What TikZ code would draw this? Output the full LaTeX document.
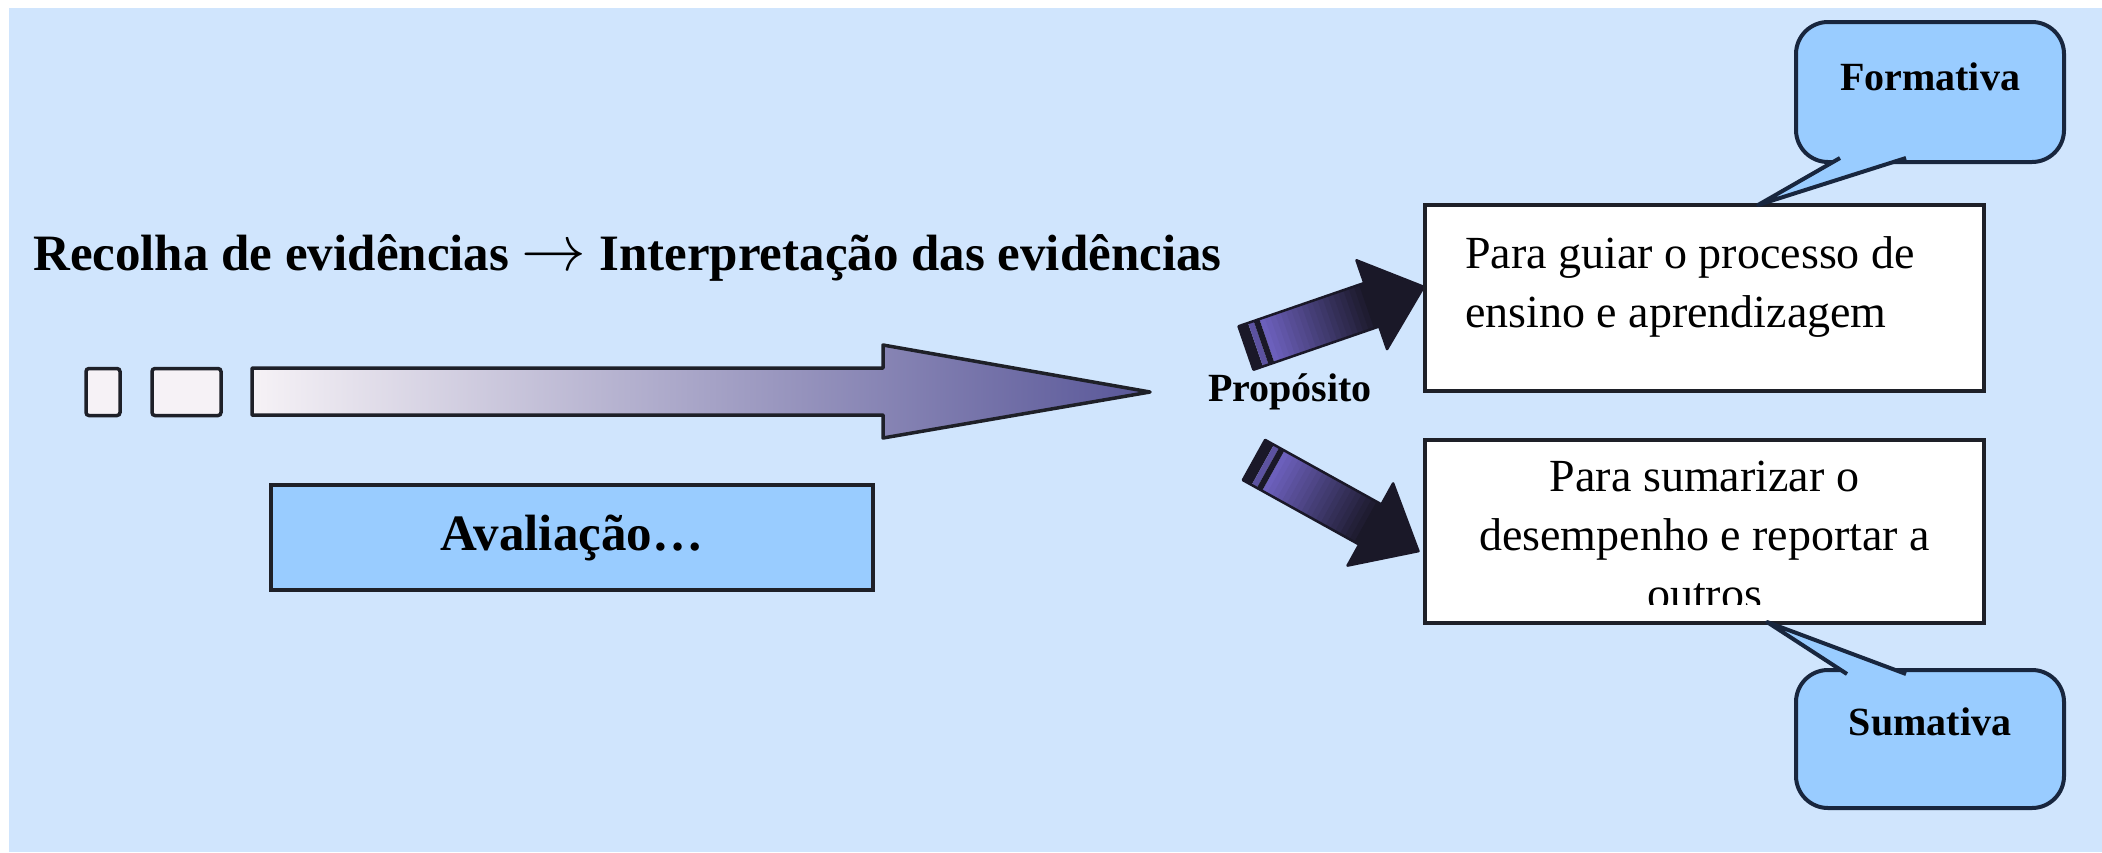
\documentclass[tikz,border=0pt]{standalone}
\usepackage{fontspec}
\setmainfont{Liberation Serif}
\definecolor{bgblue}{RGB}{208,229,253}
\definecolor{callblue}{RGB}{153,204,255}
\definecolor{edge}{RGB}{30,32,40}
\definecolor{navy}{RGB}{24,38,62}
\definecolor{apurple}{RGB}{108,96,188}
\definecolor{adark}{RGB}{26,24,40}
\definecolor{shaftL}{RGB}{246,242,246}
\definecolor{shaftR}{RGB}{88,86,152}
\tikzset{
  smallbox/.style={draw=edge, line width=3.5, fill=shaftL, rounded corners=3, inner sep=0},
  whitebox/.style={draw=edge, line width=4, fill=white, inner sep=0},
  callbox/.style={draw=navy, line width=4, fill=callblue, rounded corners=32, inner sep=0,
    minimum width=268, minimum height=140},
  pointer/.style={draw=navy, line width=4, fill=callblue, line join=round},
  calltext/.style={font=\bfseries\fontsize{40}{48}\selectfont, inner sep=0},
  boxtext/.style={font=\fontsize{46}{59}\selectfont, inner sep=0},
  darkarrow/.pic={
    \foreach \i in {0,...,19}{
      \pgfmathtruncatemacro\p{100*\i/19}
      \fill[adark!\p!apurple] ({22+\i*5.55},-23) rectangle ({22+(\i+1)*5.55+0.8},23);
    }
    \fill[adark] (0,-23) rectangle (10,23);
    \fill[apurple!85!black] (10,-23) rectangle (16,23);
    \fill[adark] (16,-23) rectangle (22,23);
    \fill[adark] (133,-47) -- (188,0) -- (133,47) -- cycle;
    \draw[adark, line width=2.5, line join=round] (0,-23) -- (133,-23) -- (133,-47) -- (188,0) -- (133,47) -- (133,23) -- (0,23) -- cycle;
  }
}
\begin{document}
\begin{tikzpicture}[x=1pt,y=-1pt]
\useasboundingbox (0,0) rectangle (2102,852);
\fill[white] (0,0) rectangle (2102,852);
\fill[bgblue] (9,8) rectangle (2102,852);

% title
\node[font=\bfseries\fontsize{51}{61}\selectfont, inner sep=0, anchor=base west] (title) at (33,270)
  {Recolha de evidências \scalebox{2.6}{$\rightarrow$} Interpretação das evidências};

% small boxes and big arrow
\node[smallbox, minimum width=34, minimum height=47] (s1) at (103,392) {};
\node[smallbox, minimum width=69, minimum height=47] (s2) at (186.5,392) {};
\shade[left color=shaftL, right color=shaftR, draw=edge, line width=3.5, line join=round]
  (252,368) -- (883,368) -- (883,345) -- (1150,392) -- (883,438) -- (883,415) -- (252,415) -- cycle;

% Avaliacao
\node[draw=edge, line width=4, fill=callblue, minimum width=602, minimum height=105,
  font=\bfseries\fontsize{51}{60}\selectfont] (aval) at (572,537.5) {Avaliação…};

% Proposito
\node[font=\bfseries\fontsize{40}{48}\selectfont, inner sep=0] (prop) at (1290,392) {Propósito};

% dark arrows
\pic[rotate=19] at (1246,348) {darkarrow};
\pic[rotate=-29] at (1254,460) {darkarrow};

% white boxes
\node[whitebox, minimum width=559, minimum height=186] (guiar) at (1704.5,298) {};
\node[boxtext, align=left, anchor=north west] (guiartxt) at (1465,236)
  {Para guiar o processo de\\ensino e aprendizagem};
\node[whitebox, minimum width=559, minimum height=183] (sumar) at (1704.5,531.5) {};
\begin{scope}
\clip (1427,442) rectangle (1982,604);
\node[boxtext, align=center, anchor=north] (sumartxt) at (1704.5,461)
  {Para sumarizar o\\desempenho e reportar a\\outros};
\end{scope}

% callouts
\node[callbox] (form) at (1930,92) {};
\node[calltext] (formtxt) at (1930,77) {Formativa};
\path[pointer] (1840,158) -- (1758,205) -- (1906,158);

\node[callbox, minimum height=138] (suma) at (1930,739) {};
\node[calltext] (sumatxt) at (1930,722) {Sumativa};
\path[pointer] (1847,674) -- (1767,622) -- (1906,674);
\end{tikzpicture}
\end{document}
